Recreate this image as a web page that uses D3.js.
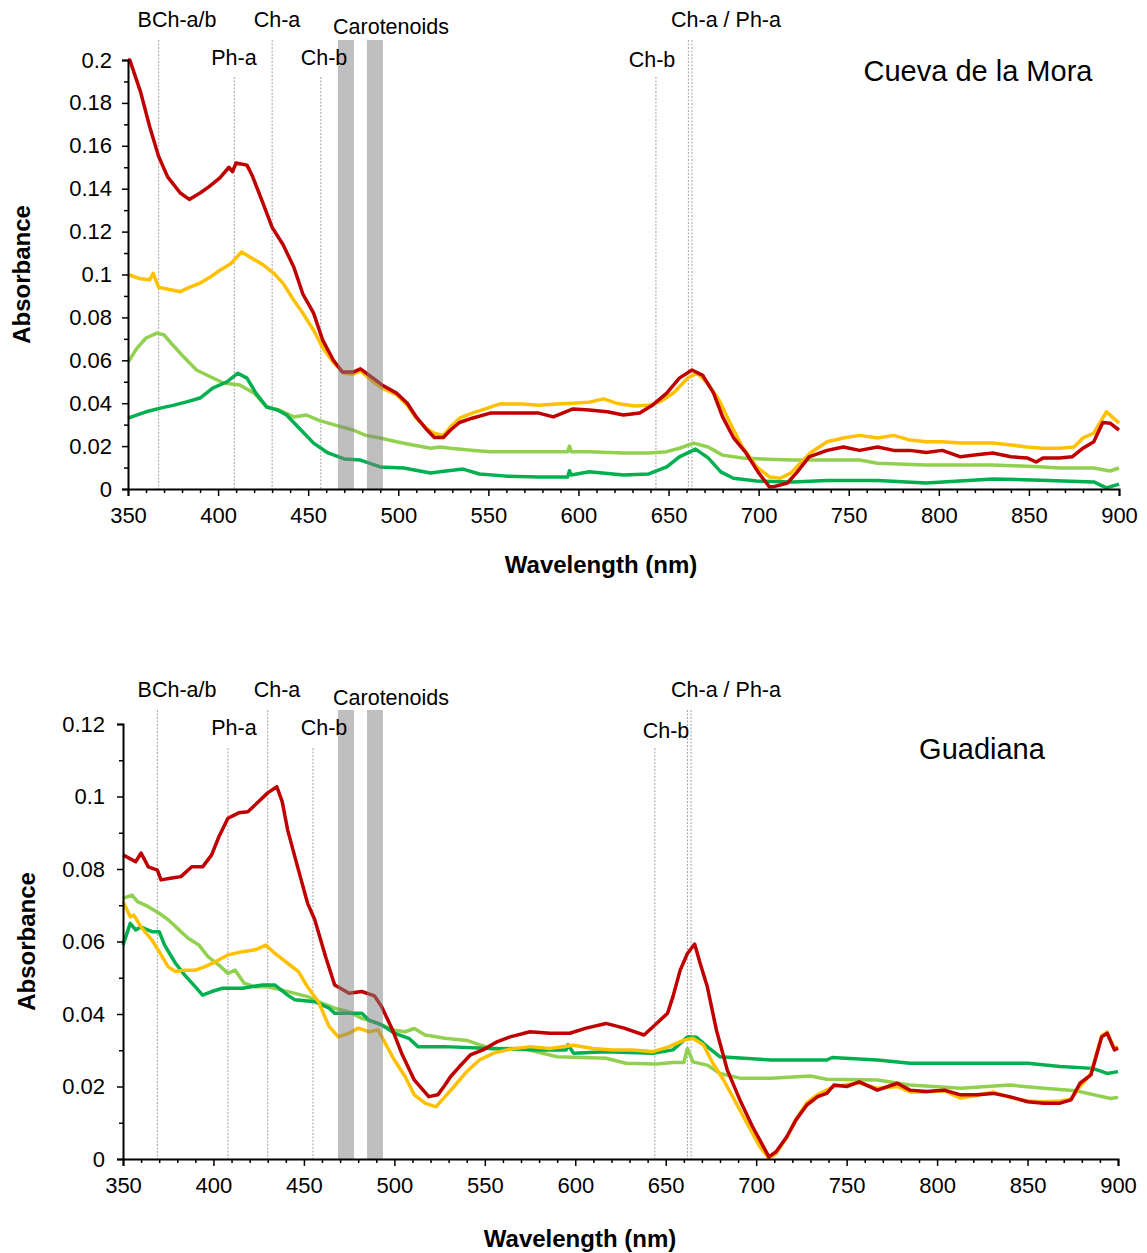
<!DOCTYPE html>
<html>
<head>
<meta charset="utf-8">
<script src="https://cdn.jsdelivr.net/npm/d3@7"></script>
<style>
  body { margin: 0; background: #fff; }
  svg { font-family: "Liberation Sans", Arial, sans-serif; }
</style>
</head>
<body>
<div id="chart"></div>
<script>
// Absorbance spectra, two sites, four samples each ([wavelength nm, absorbance])

const seriesColors = ["#92d050", "#00b050", "#ffc000", "#c00000"];

const moraLight = [[350,0.059],[355,0.0657],[360,0.0704],[366,0.0727],[370,0.0718],[375,0.067],[381,0.0615],[388,0.0555],[396,0.0522],[403,0.0494],[412,0.0485],[420,0.0447],[427,0.0382],[434,0.0368],[442,0.0336],[449,0.0345],[456,0.032],[465,0.0298],[475,0.0275],[482,0.025],[490,0.0238],[499,0.022],[508,0.0205],[518,0.019],[523,0.0196],[529,0.019],[542,0.018],[551,0.0174],[569,0.0174],[594,0.0174],[595,0.020],[596,0.0174],[606,0.0174],[625,0.0168],[639,0.0168],[649,0.0174],[656,0.019],[664,0.0214],[672,0.0196],[680,0.0158],[691,0.0145],[702,0.014],[719,0.0135],[756,0.0135],[766,0.012],[793,0.0112],[830,0.0112],[858,0.0103],[867,0.0098],[886,0.0098],[895,0.0084],[900,0.0098]];
const moraGreen = [[350,0.033],[360,0.036],[368,0.0377],[375,0.039],[382,0.0405],[390,0.0424],[397,0.047],[405,0.050],[411,0.054],[416,0.0517],[421,0.0447],[427,0.0382],[433,0.0368],[438,0.0345],[446,0.0275],[453,0.0214],[461,0.0168],[470,0.014],[479,0.0135],[490,0.0103],[503,0.0098],[518,0.0075],[523,0.008],[536,0.0093],[545,0.007],[560,0.006],[578,0.0056],[594,0.0056],[595,0.0085],[596,0.0065],[606,0.008],[625,0.0065],[639,0.007],[649,0.0103],[656,0.015],[665,0.0186],[672,0.0145],[679,0.008],[686,0.005],[699,0.0037],[719,0.0033],[738,0.004],[766,0.004],[793,0.0028],[830,0.0047],[861,0.004],[886,0.0033],[893,0.0005],[900,0.0023]];
const moraOrange = [[350,0.100],[357,0.098],[362,0.0975],[364,0.1005],[367,0.094],[373,0.093],[379,0.092],[384,0.094],[390,0.096],[396,0.099],[401,0.102],[407,0.105],[413,0.1105],[419,0.1075],[425,0.1045],[431,0.1005],[436,0.096],[442,0.088],[447,0.082],[453,0.074],[458,0.066],[464,0.059],[470,0.054],[475,0.0535],[479,0.055],[486,0.050],[491,0.047],[499,0.044],[505,0.039],[510,0.033],[516,0.028],[520,0.026],[525,0.025],[529,0.029],[534,0.033],[541,0.0354],[547,0.037],[556,0.0396],[569,0.0396],[578,0.039],[588,0.0396],[597,0.040],[606,0.0405],[614,0.042],[621,0.040],[631,0.0387],[639,0.039],[646,0.041],[653,0.045],[661,0.052],[666,0.054],[672,0.049],[678,0.0415],[684,0.031],[691,0.0196],[699,0.0103],[706,0.0056],[712,0.005],[718,0.0075],[723,0.012],[729,0.017],[738,0.022],[747,0.0238],[756,0.025],[766,0.0238],[775,0.025],[784,0.0228],[793,0.022],[802,0.022],[812,0.0214],[821,0.0214],[830,0.0214],[840,0.0205],[849,0.0196],[858,0.019],[867,0.019],[875,0.0196],[880,0.0238],[886,0.026],[893,0.036],[900,0.0307]];
const moraRed = [[350,0.200],[351,0.200],[357,0.185],[362,0.169],[367,0.155],[372,0.1455],[379,0.138],[384,0.135],[390,0.138],[395,0.141],[401,0.145],[406,0.150],[408,0.148],[410,0.152],[416,0.151],[419,0.146],[425,0.133],[430,0.122],[436,0.114],[442,0.1035],[447,0.091],[453,0.082],[458,0.0695],[464,0.060],[469,0.0545],[475,0.0545],[479,0.056],[486,0.0517],[491,0.0485],[499,0.0447],[505,0.040],[510,0.0336],[516,0.0275],[520,0.024],[525,0.024],[529,0.0275],[534,0.031],[541,0.033],[551,0.0354],[560,0.0354],[569,0.0354],[578,0.0354],[586,0.0336],[597,0.0373],[606,0.0368],[616,0.036],[625,0.0345],[634,0.0354],[641,0.039],[649,0.0447],[656,0.0517],[663,0.0555],[669,0.053],[675,0.0447],[680,0.0336],[686,0.024],[693,0.0168],[700,0.0075],[706,0.001],[708,0.001],[716,0.0028],[721,0.0075],[728,0.015],[738,0.018],[747,0.0196],[756,0.018],[766,0.0196],[775,0.018],[784,0.018],[793,0.017],[802,0.018],[812,0.015],[821,0.016],[830,0.0168],[840,0.015],[849,0.0145],[854,0.0126],[858,0.0145],[867,0.0145],[874,0.015],[880,0.019],[886,0.022],[891,0.031],[895,0.0307],[900,0.0275]];

const guadLight = [[350,0.0719],[355,0.0728],[358,0.071],[364,0.0696],[370,0.0678],[375,0.066],[381,0.0632],[386,0.0609],[392,0.059],[397,0.0558],[403,0.0535],[408,0.0512],[412,0.0521],[417,0.0485],[423,0.0475],[430,0.0475],[438,0.0466],[445,0.0457],[452,0.0448],[460,0.043],[467,0.0416],[475,0.0406],[482,0.0388],[491,0.0374],[499,0.0356],[506,0.0351],[511,0.036],[517,0.0342],[528,0.0333],[540,0.0327],[553,0.0305],[571,0.0305],[590,0.0282],[617,0.0278],[628,0.0264],[645,0.0262],[654,0.0266],[660,0.0266],[662,0.0305],[665,0.0268],[673,0.0259],[680,0.0236],[691,0.0223],[708,0.0223],[730,0.0229],[739,0.022],[767,0.0218],[785,0.0204],[813,0.0195],[840,0.0204],[859,0.0195],[877,0.0188],[896,0.0167],[900,0.017]];
const guadGreen = [[350,0.059],[354,0.065],[357,0.0632],[360,0.064],[366,0.0627],[370,0.0627],[373,0.059],[379,0.054],[384,0.0508],[390,0.0475],[394,0.0452],[399,0.0462],[405,0.0471],[416,0.0471],[427,0.048],[434,0.048],[441,0.0452],[445,0.0439],[456,0.0434],[464,0.0416],[467,0.0402],[482,0.0402],[486,0.0383],[493,0.037],[500,0.0347],[508,0.0333],[513,0.031],[528,0.031],[553,0.0305],[581,0.0301],[595,0.0301],[596,0.0315],[599,0.0292],[617,0.0296],[643,0.0292],[654,0.0301],[662,0.0337],[667,0.0336],[673,0.031],[680,0.0282],[708,0.0273],[739,0.0273],[742,0.028],[767,0.0273],[785,0.0264],[850,0.0264],[868,0.0255],[886,0.025],[894,0.0236],[900,0.0241]];
const guadOrange = [[350,0.071],[354,0.0668],[356,0.0673],[360,0.064],[366,0.0604],[370,0.0572],[375,0.053],[379,0.0517],[384,0.0521],[390,0.0521],[395,0.053],[401,0.0544],[408,0.0563],[416,0.0572],[423,0.0577],[429,0.059],[434,0.0567],[441,0.054],[447,0.0517],[452,0.0475],[458,0.0434],[464,0.0365],[469,0.0337],[475,0.0347],[480,0.0361],[486,0.0351],[491,0.0356],[495,0.0319],[500,0.0273],[506,0.0227],[511,0.0177],[517,0.0154],[523,0.0144],[528,0.0172],[533,0.020],[540,0.0241],[547,0.0273],[555,0.0292],[564,0.0303],[575,0.031],[586,0.0305],[599,0.0314],[610,0.0305],[621,0.0301],[632,0.0301],[643,0.0296],[652,0.031],[660,0.0328],[665,0.0333],[671,0.0314],[676,0.0264],[682,0.0218],[687,0.0172],[695,0.0098],[702,0.0034],[707,0.0002],[711,0.0015],[717,0.006],[722,0.011],[728,0.0155],[734,0.0178],[739,0.019],[743,0.020],[750,0.0205],[757,0.021],[767,0.0195],[778,0.020],[785,0.0185],[794,0.0185],[804,0.0188],[813,0.0168],[822,0.0175],[831,0.0185],[840,0.017],[850,0.016],[859,0.0158],[868,0.016],[874,0.0165],[879,0.020],[885,0.0235],[891,0.034],[894,0.035],[898,0.0305],[900,0.031]];
const guadRed = [[350,0.0839],[357,0.082],[360,0.0844],[364,0.0806],[369,0.0797],[371,0.077],[377,0.0775],[382,0.0779],[388,0.0806],[394,0.0806],[399,0.0839],[403,0.0889],[408,0.094],[414,0.0955],[419,0.0958],[425,0.0986],[430,0.101],[435,0.1027],[438,0.0986],[441,0.0908],[447,0.0797],[452,0.0706],[456,0.066],[462,0.0558],[467,0.048],[475,0.0457],[482,0.0462],[489,0.045],[493,0.042],[499,0.0356],[504,0.0292],[511,0.0218],[519,0.0172],[524,0.0177],[528,0.0204],[531,0.0227],[536,0.0255],[542,0.0287],[549,0.0301],[557,0.0324],[564,0.0337],[575,0.0351],[586,0.0347],[597,0.0347],[606,0.0361],[617,0.0374],[627,0.0361],[638,0.0342],[643,0.0365],[651,0.0402],[654,0.0448],[658,0.0521],[662,0.0567],[666,0.0593],[669,0.054],[673,0.0475],[678,0.0356],[684,0.0246],[691,0.0163],[698,0.0089],[704,0.0034],[707,0.0006],[711,0.002],[717,0.0062],[722,0.0108],[728,0.0149],[734,0.0172],[739,0.0181],[743,0.0204],[750,0.020],[757,0.0213],[767,0.019],[778,0.0209],[785,0.019],[794,0.0186],[804,0.019],[813,0.0177],[822,0.0177],[831,0.0181],[840,0.0172],[850,0.0158],[859,0.0154],[868,0.0154],[874,0.0163],[879,0.0209],[885,0.0232],[891,0.0337],[894,0.0347],[898,0.0301],[900,0.0306]];

// pigment marker wavelengths and carotenoid bands
const moraMarkers = [367, 409, 430, 457, 643, 661, 663];
const guadMarkers = [369, 408, 430, 455, 644, 662, 664];
const moraBands = [[466.5, 475.4], [482.6, 491.5]];
const guadBands = [[468.8, 477.7], [484.9, 493.7]];
const markerNames = ["BCh-a/b", "Ph-a", "Ch-a", "Ch-b", "Ch-b", "Ch-a / Ph-a", ""];
const markerTier = [0, 1, 0, 1, 1, 0, 0]; // 0 = high label, 1 = low label

const xTicks = [350, 400, 450, 500, 550, 600, 650, 700, 750, 800, 850, 900];
const moraYTicks = [0, 0.02, 0.04, 0.06, 0.08, 0.1, 0.12, 0.14, 0.16, 0.18, 0.2];
const guadYTicks = [0, 0.02, 0.04, 0.06, 0.08, 0.1, 0.12];

const W = 1147, H = 1253;
const svg = d3.select("#chart").append("svg")
  .attr("width", W)
  .attr("height", H);

const panels = [
  {
    title: "Cueva de la Mora", series: [moraLight, moraGreen, moraOrange, moraRed],
    markers: moraMarkers, bands: moraBands, yTicks: moraYTicks, yMax: 0.2,
    left: 128, right: 1119, top: 60, bottom: 489, lineTop: [40, 77], yPad: 10,
    labelX: [177, 234, 277, 324, 652, 726], labelY: [19, 57], caroX: 391, caroY: 26,
    titleX: 978, titleY: 71, yTitleX: 22, xTitleX: 601, xTitleY: 565,
    lowLabelY: [57, 57, 59]
  },
  {
    title: "Guadiana", series: [guadLight, guadGreen, guadOrange, guadRed],
    markers: guadMarkers, bands: guadBands, yTicks: guadYTicks, yMax: 0.12,
    left: 123, right: 1118, top: 724, bottom: 1159, lineTop: [710, 748], yPad: 12,
    labelX: [177, 234, 277, 324, 666, 726], labelY: [689, 727], caroX: 391, caroY: 697,
    titleX: 982, titleY: 749, yTitleX: 27, xTitleX: 580, xTitleY: 1239,
    lowLabelY: [727, 727, 730]
  }
];

panels.forEach(p => {
  const x = d3.scaleLinear().domain([350, 900]).range([p.left, p.right]);
  const y = d3.scaleLinear().domain([0, p.yMax]).range([p.bottom, p.top]);
  const g = svg.append("g");

  // dashed pigment lines
  g.selectAll("line.marker")
    .data(p.markers)
    .enter().append("line")
    .attr("class", "marker")
    .attr("x1", d => x(d)).attr("x2", d => x(d))
    .attr("y1", (d, i) => p.lineTop[markerTier[i]])
    .attr("y2", p.bottom)
    .attr("stroke", "#8c8c8c")
    .attr("stroke-width", 0.8)
    .attr("stroke-dasharray", "2,1.5");

  // spectra
  const line = d3.line().x(d => x(d[0])).y(d => y(d[1]));
  p.series.forEach((s, i) => {
    g.append("path")
      .datum(s)
      .attr("d", line)
      .attr("fill", "none")
      .attr("stroke", seriesColors[i])
      .attr("stroke-width", 3.5)
      .attr("stroke-linejoin", "round");
  });

  // carotenoid bands (translucent grey on top)
  g.selectAll("rect.band")
    .data(p.bands)
    .enter().append("rect")
    .attr("class", "band")
    .attr("x", d => x(d[0]))
    .attr("width", d => x(d[1]) - x(d[0]))
    .attr("y", p.lineTop[0])
    .attr("height", p.bottom - p.lineTop[0])
    .attr("fill", "#7f7f7f")
    .attr("opacity", 0.5);

  // axes
  const xAxis = g.append("g")
    .attr("transform", `translate(0,${p.bottom})`)
    .call(d3.axisBottom(x).tickValues(xTicks).tickSize(7).tickPadding(11).tickFormat(d3.format("d")));
  g.append("g")
    .attr("transform", `translate(0,${p.bottom})`)
    .call(d3.axisBottom(x).tickValues(d3.range(360, 900, 10).filter(v => v % 50)).tickSize(4).tickFormat(""))
    .select(".domain").remove();

  const yAxis = g.append("g")
    .attr("transform", `translate(${p.left},0)`)
    .call(d3.axisLeft(y).tickValues(p.yTicks).tickSize(6).tickPadding(p.yPad)
      .tickFormat(d => d === 0 ? "0" : String(+d.toFixed(2))));
  g.append("g")
    .attr("transform", `translate(${p.left},0)`)
    .call(d3.axisLeft(y).tickValues(p.yTicks.slice(1).map(v => +(v - 0.01).toFixed(2))).tickSize(4).tickFormat(""))
    .select(".domain").remove();

  [xAxis, yAxis].forEach(a => {
    a.select(".domain").attr("stroke", "#000").attr("stroke-width", 2);
    a.selectAll("text").attr("font-size", 22).attr("fill", "#000")
      .attr("font-family", "'Liberation Sans', Arial, sans-serif");
  });
  g.selectAll(".tick line").attr("stroke", "#000").attr("stroke-width", 1.5);

  // pigment labels
  const names = markerNames.slice(0, 6);
  g.selectAll("text.plabel")
    .data(names)
    .enter().append("text")
    .attr("class", "plabel")
    .attr("x", (d, i) => p.labelX[i])
    .attr("y", (d, i) => i === 4 ? p.lowLabelY[2] : p.labelY[markerTier[i]])
    .attr("dy", "0.35em")
    .attr("text-anchor", "middle")
    .attr("font-size", 21.5)
    .text(d => d);
  g.append("text")
    .attr("x", p.caroX).attr("y", p.caroY).attr("dy", "0.35em")
    .attr("text-anchor", "middle").attr("font-size", 21.5)
    .text("Carotenoids");

  // site name
  g.append("text")
    .attr("x", p.titleX).attr("y", p.titleY).attr("dy", "0.35em")
    .attr("text-anchor", "middle").attr("font-size", 29)
    .text(p.title);

  // axis titles
  g.append("text")
    .attr("transform", `translate(${p.yTitleX},${(p.top + p.bottom) / 2}) rotate(-90)`)
    .attr("dy", "0.35em")
    .attr("text-anchor", "middle").attr("font-size", 24).attr("font-weight", "bold")
    .text("Absorbance");
  g.append("text")
    .attr("x", p.xTitleX).attr("y", p.xTitleY).attr("dy", "0.35em")
    .attr("text-anchor", "middle").attr("font-size", 24).attr("font-weight", "bold")
    .text("Wavelength (nm)");
});
</script>
</body>
</html>
